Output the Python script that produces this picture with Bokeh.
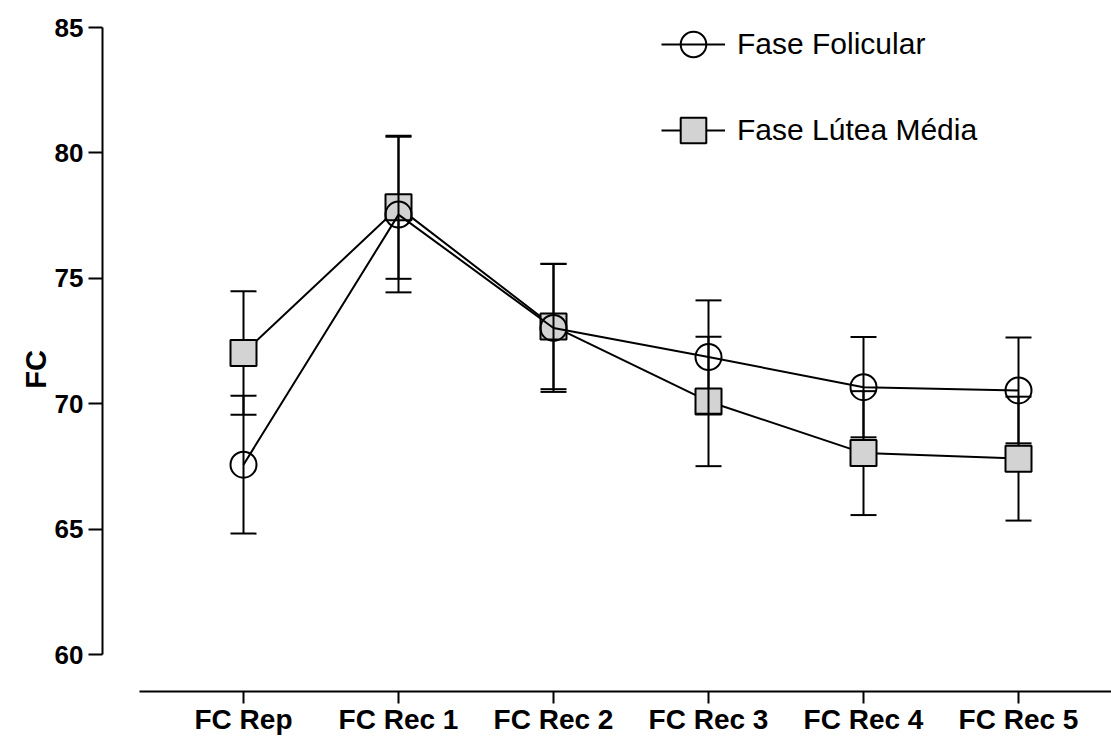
from bokeh.plotting import figure
from bokeh.models import Range1d, FixedTicker, Legend, LegendItem, ColumnDataSource
from bokeh.embed import file_html
from bokeh.resources import INLINE

# ---- data ----
categories = ["FC Rep", "FC Rec 1", "FC Rec 2", "FC Rec 3", "FC Rec 4", "FC Rec 5"]
folicular_mean = [67.57, 77.54, 73.02, 71.86, 70.66, 70.53]
folicular_err = [2.75, 3.10, 2.55, 2.26, 2.00, 2.11]
lutea_mean = [72.02, 77.83, 73.08, 70.09, 68.03, 67.81]
lutea_err = [2.46, 2.85, 2.50, 2.58, 2.47, 2.47]
y_ticks = [60, 65, 70, 75, 80, 85]
series_names = ["Fase Folicular", "Fase Lútea Média"]

FONT = "Liberation Sans"
xs = list(range(len(categories)))


def make_source(mean, err):
    return ColumnDataSource(dict(
        x=xs,
        y=mean,
        lo=[m - e for m, e in zip(mean, err)],
        hi=[m + e for m, e in zip(mean, err)],
    ))


src_f = make_source(folicular_mean, folicular_err)
src_l = make_source(lutea_mean, lutea_err)

p = figure(
    width=1111, height=738,
    x_range=Range1d(-0.9097, 5.6),
    y_range=Range1d(56.651, 86.077),
    output_backend="svg", toolbar_location=None,
    min_border_left=102, min_border_right=0, min_border_top=0, min_border_bottom=0,
)
p.outline_line_color = None
p.grid.visible = False
p.background_fill_color = "white"
p.border_fill_color = "white"

# ---- Lútea series (drawn first, beneath) ----
p.segment(x0="x", y0="lo", x1="x", y1="hi", source=src_l, line_color="black", line_width=2)
p.scatter(x="x", y="lo", source=src_l, marker="dash", size=26, line_color="black", line_width=2)
p.scatter(x="x", y="hi", source=src_l, marker="dash", size=26, line_color="black", line_width=2)
line_l = p.line(x="x", y="y", source=src_l, line_color="black", line_width=2)
sq_l = p.scatter(x="x", y="y", source=src_l, marker="square", size=26,
                 fill_color="#d3d3d3", line_color="black", line_width=2)

# ---- Folicular series ----
p.segment(x0="x", y0="lo", x1="x", y1="hi", source=src_f, line_color="black", line_width=2)
p.scatter(x="x", y="lo", source=src_f, marker="dash", size=26, line_color="black", line_width=2)
p.scatter(x="x", y="hi", source=src_f, marker="dash", size=26, line_color="black", line_width=2)
line_f = p.line(x="x", y="y", source=src_f, line_color="black", line_width=2)
ci_f = p.scatter(x="x", y="y", source=src_f, marker="circle", size=26,
                 fill_color=None, line_color="black", line_width=2)

# ---- axes ----
xa = p.xaxis[0]
xa.fixed_location = 58.525
xa.ticker = FixedTicker(ticks=xs)
xa.major_label_overrides = {i: c for i, c in zip(xs, categories)}
xa.bounds = (-0.67, 6)
xa.axis_line_width = 2
xa.major_tick_line_width = 2
xa.major_tick_out = 12
xa.major_tick_in = 0
xa.minor_tick_line_color = None
xa.major_label_standoff = 0
xa.major_label_text_font = FONT
xa.major_label_text_font_style = "bold"
xa.major_label_text_font_size = "28px"
xa.major_label_text_color = "black"

ya = p.yaxis[0]
ya.ticker = FixedTicker(ticks=y_ticks)
ya.bounds = (60, 85)
ya.axis_line_width = 2
ya.major_tick_line_width = 2
ya.major_tick_out = 14
ya.major_tick_in = 0
ya.minor_tick_line_color = None
ya.major_label_standoff = 5
ya.major_label_text_font = FONT
ya.major_label_text_font_style = "bold"
ya.major_label_text_font_size = "26px"
ya.major_label_text_color = "black"
ya.axis_label = "FC"
ya.axis_label_text_font = FONT
ya.axis_label_text_font_style = "bold"
ya.axis_label_text_font_size = "29px"
ya.axis_label_text_color = "black"
ya.axis_label_standoff = 0

# ---- legend ----
legend = Legend(
    items=[
        LegendItem(label=series_names[0], renderers=[line_f, ci_f]),
        LegendItem(label=series_names[1], renderers=[line_l, sq_l]),
    ],
    location=(559, 575),
    orientation="vertical",
    glyph_width=64, glyph_height=66,
    spacing=20, padding=0, margin=0,
    label_standoff=12,
    label_text_font=FONT,
    label_text_font_size="30px",
    label_text_color="black",
    border_line_color=None,
    background_fill_alpha=0,
)
p.add_layout(legend, "center")

open("out.html", "w").write(file_html(p, INLINE))
